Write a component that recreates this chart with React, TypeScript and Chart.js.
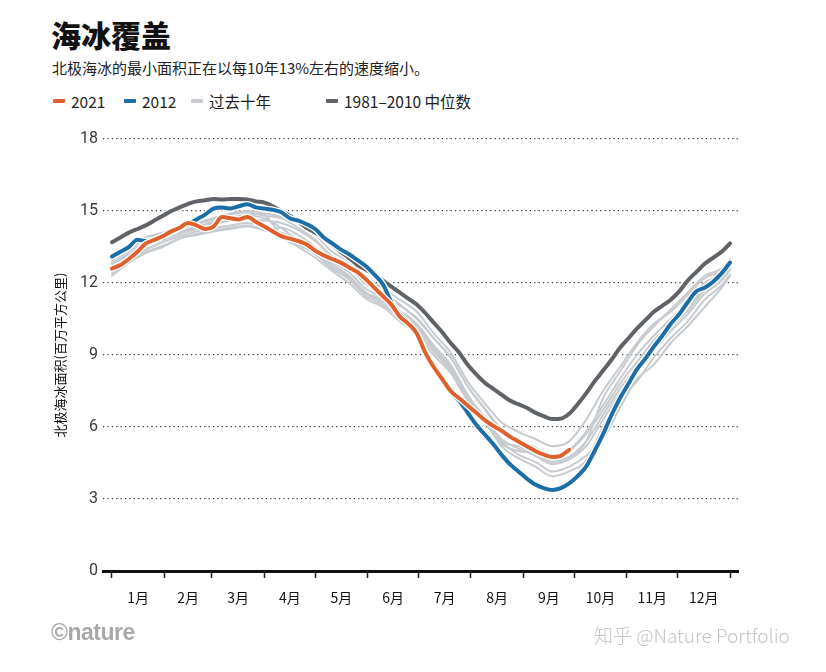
import React, { useEffect, useRef } from "react";
import { Chart, registerables } from "chart.js";

Chart.register(...registerables);

// ---------- data ----------
const days = [
  0, 5, 10, 15, 20, 25, 30, 35, 40, 45, 50, 55, 60, 65, 70, 75, 80, 85, 90, 95,
  100, 105, 110, 115, 120, 125, 130, 135, 140, 145, 150, 155, 160, 165, 170, 175,
  180, 185, 190, 195, 200, 205, 210, 215, 220, 225, 230, 235, 240, 245, 250, 255,
  260, 265, 270, 275, 280, 285, 290, 295, 300, 305, 310, 315, 320, 325, 330, 335,
  340, 345, 350, 355, 360, 365,
];

const median19812010 = [
  13.7, 13.9, 14.1, 14.25, 14.4, 14.6, 14.8, 15.0, 15.15, 15.3, 15.4, 15.45, 15.5, 15.48, 15.5, 15.5,
  15.48, 15.4, 15.35, 15.2, 15.0, 14.8, 14.55, 14.3, 14.1, 13.9, 13.6, 13.3, 13.05, 12.75, 12.55, 12.35,
  12.1, 11.85, 11.6, 11.35, 11.1, 10.75, 10.35, 9.95, 9.5, 9.1, 8.6, 8.2, 7.85, 7.6, 7.35, 7.1,
  6.95, 6.8, 6.6, 6.45, 6.33, 6.35, 6.55, 6.95, 7.4, 7.9, 8.35, 8.8, 9.3, 9.7, 10.1, 10.45,
  10.8, 11.05, 11.3, 11.65, 12.1, 12.45, 12.8, 13.05, 13.3, 13.65,
];

const year2012 = [
  13.1, 13.3, 13.5, 13.8, 13.75, 13.8, 13.95, 14.1, 14.3, 14.45, 14.65, 14.85, 15.1, 15.15, 15.1, 15.2,
  15.28, 15.15, 15.1, 15.05, 14.95, 14.7, 14.6, 14.45, 14.25, 13.9, 13.65, 13.4, 13.2, 12.95, 12.7, 12.35,
  11.95, 11.2, 10.7, 10.3, 9.9, 9.15, 8.55, 8.0, 7.45, 7.1, 6.6, 6.1, 5.7, 5.3, 4.85, 4.45,
  4.15, 3.85, 3.6, 3.45, 3.37, 3.45, 3.65, 3.95, 4.35, 5.0, 5.7, 6.5, 7.2, 7.8, 8.4, 8.85,
  9.35, 9.8, 10.3, 10.7, 11.2, 11.65, 11.8, 12.05, 12.4, 12.85,
];

// 2021 runs until late September (day 270)
const year2021 = [
  12.6, 12.75, 13.0, 13.3, 13.65, 13.8, 13.95, 14.15, 14.3, 14.5, 14.4, 14.25, 14.35, 14.75, 14.7, 14.65,
  14.75, 14.55, 14.35, 14.15, 13.95, 13.85, 13.75, 13.6, 13.35, 13.15, 13.0, 12.85, 12.65, 12.45, 12.15, 11.8,
  11.45, 11.1, 10.6, 10.3, 9.9, 9.1, 8.5, 8.0, 7.5, 7.2, 6.9, 6.6, 6.3, 6.05, 5.85, 5.6,
  5.4, 5.2, 5.0, 4.85, 4.75, 4.8, 5.05,
];

const grayDays = [
  0, 10, 20, 30, 40, 50, 60, 70, 80, 90, 100, 110, 120, 130, 140, 150, 160, 170, 180,
  190, 200, 210, 220, 230, 240, 250, 260, 270, 280, 290, 300, 310, 320, 330, 340, 350, 360, 365,
];

const past1 = [13.1, 13.4, 13.85, 14.05, 14.25, 14.45, 14.65, 14.85, 14.95, 14.8, 14.7, 14.3, 13.8, 13.1, 12.7, 12.0, 11.6, 11.1, 10.5, 9.7, 8.9, 7.7, 6.8, 5.9, 5.45, 5.15, 4.8, 5.0, 5.7, 6.7, 7.8, 8.7, 9.6, 10.3, 11.0, 11.8, 12.3, 12.7];
const past2 = [12.3, 12.85, 13.25, 13.5, 13.85, 14.0, 14.15, 14.25, 14.35, 14.2, 14.1, 13.8, 13.4, 12.8, 12.3, 11.6, 11.3, 10.7, 10.2, 9.3, 8.5, 7.3, 6.4, 5.4, 4.85, 4.55, 4.15, 4.35, 4.8, 5.5, 6.8, 8.0, 8.6, 9.5, 10.2, 11.0, 11.8, 12.3];
const past3 = [12.8, 13.15, 13.55, 13.8, 14.05, 14.25, 14.45, 14.6, 14.7, 14.6, 14.5, 14.2, 13.75, 13.1, 12.65, 11.95, 11.6, 11.05, 10.55, 9.7, 8.9, 7.7, 6.75, 5.85, 5.4, 5.1, 4.8, 5.05, 5.8, 6.9, 8.0, 9.0, 9.8, 10.5, 11.2, 12.0, 12.4, 12.8];
const past4 = [12.6, 13.0, 13.4, 13.7, 13.95, 14.15, 14.3, 14.4, 14.5, 14.35, 13.9, 13.5, 13.05, 12.5, 12.0, 11.35, 11.0, 10.4, 9.85, 9.0, 8.25, 7.1, 6.2, 5.3, 5.0, 4.9, 4.55, 4.75, 5.4, 7.2, 8.3, 9.4, 10.2, 10.9, 11.6, 12.3, 12.6, 13.0];
const past5 = [12.95, 13.3, 13.7, 13.95, 14.15, 14.35, 14.55, 14.7, 14.8, 14.7, 14.3, 13.75, 13.3, 12.7, 12.25, 11.55, 11.2, 10.65, 10.1, 9.25, 8.45, 7.3, 6.4, 5.5, 5.1, 4.8, 4.45, 4.65, 5.2, 6.3, 7.4, 8.3, 9.2, 10.0, 10.7, 11.55, 12.1, 12.55];
const past6 = [12.4, 12.9, 13.3, 13.55, 13.85, 14.05, 14.2, 14.3, 14.4, 14.25, 14.3, 14.0, 13.5, 12.9, 12.45, 11.75, 11.4, 10.85, 10.3, 9.4, 8.6, 7.35, 6.3, 5.2, 4.7, 4.35, 3.95, 4.15, 4.6, 6.0, 7.2, 7.9, 8.9, 9.7, 10.4, 11.3, 11.9, 12.35];
const past7 = [12.85, 13.2, 13.6, 13.85, 14.1, 14.3, 14.5, 14.7, 14.85, 14.9, 14.75, 14.45, 14.0, 13.3, 12.9, 12.2, 11.8, 11.3, 10.8, 9.9, 9.1, 7.9, 7.0, 6.2, 5.8, 5.5, 5.2, 5.4, 6.3, 7.5, 8.5, 9.5, 10.3, 10.8, 11.5, 12.2, 12.5, 12.9];
const past8 = [13.2, 13.5, 13.9, 14.1, 14.3, 14.5, 14.7, 14.9, 15.0, 14.85, 14.0, 13.6, 13.2, 12.6, 12.15, 11.45, 11.1, 10.55, 9.95, 9.15, 8.35, 7.2, 6.3, 5.4, 5.2, 4.9, 4.55, 4.75, 5.4, 6.5, 7.6, 8.5, 9.4, 10.15, 10.85, 11.7, 12.2, 12.6];
const pastDecade = [past1, past2, past3, past4, past5, past6, past7, past8];

const monthBoundaries = [0, 31, 59, 90, 120, 151, 181, 212, 243, 273, 304, 334, 365];
const monthMids = [15.5, 45, 74.5, 105, 135.5, 166, 196.5, 227.5, 258, 288.5, 319, 349.5];
const monthLabels = ["1月", "2月", "3月", "4月", "5月", "6月", "7月", "8月", "9月", "10月", "11月", "12月"];

const yMin = 0;
const yMax = 18;
const yStep = 3;

const xMin = -5.3;
const xMax = 369.7;

// ---------- styles ----------
const ORANGE = "#e0602c";
const BLUE = "#1b6ea8";
const DARK = "#5f6368";
const LIGHT = "#c7cbd0";

const CJK = '"Noto Sans CJK SC", "Noto Sans", sans-serif';

function pts(xs: number[], ys: number[]) {
  return ys.map((v, i) => ({ x: xs[i], y: v }));
}

export default function App() {
  const ref = useRef<HTMLCanvasElement | null>(null);

  useEffect(() => {
    if (!ref.current) return;
    const lineBase = {
      pointRadius: 0,
      pointHoverRadius: 0,
      cubicInterpolationMode: "monotone" as const,
      borderCapStyle: "round" as const,
      borderJoinStyle: "round" as const,
      fill: false,
    };
    const datasets: any[] = [
      { ...lineBase, label: "2021", data: pts(days, year2021), borderColor: ORANGE, borderWidth: 4, order: 0 },
      { ...lineBase, label: "2021h", data: pts(days, year2021), borderColor: "#ffffff", borderWidth: 6.5, order: 1 },
      { ...lineBase, label: "2012", data: pts(days, year2012), borderColor: BLUE, borderWidth: 4, order: 2 },
      { ...lineBase, label: "2012h", data: pts(days, year2012), borderColor: "#ffffff", borderWidth: 6.5, order: 3 },
      { ...lineBase, label: "median", data: pts(days, median19812010), borderColor: DARK, borderWidth: 4, order: 4 },
      { ...lineBase, label: "medianh", data: pts(days, median19812010), borderColor: "#ffffff", borderWidth: 6.5, order: 5 },
      ...pastDecade.map((s, i) => ({
        ...lineBase,
        label: "past" + i,
        data: pts(grayDays, s),
        borderColor: LIGHT,
        borderWidth: 2,
        order: 10 + i,
      })),
    ];

    const chart = new Chart(ref.current, {
      type: "line",
      data: { datasets },
      options: {
        animation: false,
        responsive: false,
        devicePixelRatio: 1,
        layout: { padding: { left: 48, right: 88, top: 139, bottom: 61 } },
        plugins: { legend: { display: false }, tooltip: { enabled: false }, title: { display: false } },
        scales: {
          x: {
            type: "linear",
            min: xMin,
            max: xMax,
            afterBuildTicks: (axis: any) => {
              const all = [...monthBoundaries, ...monthMids].sort((a, b) => a - b);
              axis.ticks = all.map((v) => ({ value: v }));
            },
            afterFit: (axis: any) => {
              axis.height = 40;
            },
            ticks: {
              autoSkip: false,
              maxRotation: 0,
              minRotation: 0,
              padding: 11,
              color: "#111",
              font: { family: '"Liberation Sans Narrow", ' + CJK, size: 14 },
              callback: (_v: any, i: number) => (i % 2 === 1 ? monthLabels[(i - 1) / 2] : ""),
            },
            grid: {
              drawOnChartArea: false,
              drawTicks: true,
              tickLength: 7,
              tickWidth: 1.5,
              tickColor: (ctx: any) => (ctx.index % 2 === 0 ? "#222" : "rgba(0,0,0,0)"),
            },
            border: { display: true, color: "#111", width: 3 },
          },
          y: {
            type: "linear",
            min: yMin,
            max: yMax,
            afterBuildTicks: (axis: any) => {
              const t: any[] = [];
              for (let v = yMin; v <= yMax; v += yStep) t.push({ value: v });
              axis.ticks = t;
            },
            afterFit: (axis: any) => {
              axis.width = 55;
            },
            ticks: {
              color: "#3a3a3a",
              padding: 5,
              font: { family: "Roboto, sans-serif", size: 16 },
            },
            grid: {
              drawTicks: false,
              color: (ctx: any) => (ctx.tick && ctx.tick.value === 0 ? "rgba(0,0,0,0)" : "#333"),
              lineWidth: 1.2,
            },
            border: { display: false, dash: [1.2, 3.2] },
            title: {
              display: true,
              text: "北极海冰面积(百万平方公里)",
              color: "#111",
              font: { family: CJK, size: 13 },
              padding: { top: 4, bottom: 4 },
            },
          },
        },
      } as any,
    });
    return () => chart.destroy();
  }, []);

  const legendItem = (color: string, label: string, left: number) => (
    <div style={{ position: "absolute", left, top: 91, height: 20, display: "flex", alignItems: "center" }}>
      <span style={{ display: "inline-block", width: 12, height: 4, background: color, borderRadius: 1, marginRight: 6 }} />
      <span style={{ fontFamily: CJK, fontSize: 15.5, color: "#222", lineHeight: "20px" }}>{label}</span>
    </div>
  );

  return (
    <div style={{ position: "absolute", left: 0, top: 0, width: 826, height: 672, background: "#fff", overflow: "hidden" }}>
      <div style={{ position: "absolute", left: 51, top: 18, fontFamily: CJK, fontWeight: 900, fontSize: 30, lineHeight: "32px", color: "#111" }}>
        海冰覆盖
      </div>
      <div style={{ position: "absolute", left: 52, top: 58, fontFamily: CJK, fontSize: 15, lineHeight: "20px", color: "#222" }}>
        北极海冰的最小面积正在以每10年13%左右的速度缩小。
      </div>
      {legendItem(ORANGE, "2021", 53)}
      {legendItem(BLUE, "2012", 124)}
      {legendItem(LIGHT, "过去十年", 191)}
      {legendItem(DARK, "1981–2010 中位数", 326)}
      <canvas ref={ref} width={826} height={672} style={{ position: "absolute", left: 0, top: 0, width: 826, height: 672 }} />
      <div style={{ position: "absolute", left: 51, top: 619, fontFamily: '"Liberation Sans Narrow", sans-serif', fontWeight: 700, fontSize: 23, lineHeight: "26px", color: "#a9a9a9", letterSpacing: -0.5 }}>
        ©nature
      </div>
      <div style={{ position: "absolute", left: 594, top: 622, fontFamily: CJK, fontWeight: 300, fontSize: 19, lineHeight: "26px", color: "#c4c4c4" }}>
        知乎 @Nature Portfolio
      </div>
    </div>
  );
}
